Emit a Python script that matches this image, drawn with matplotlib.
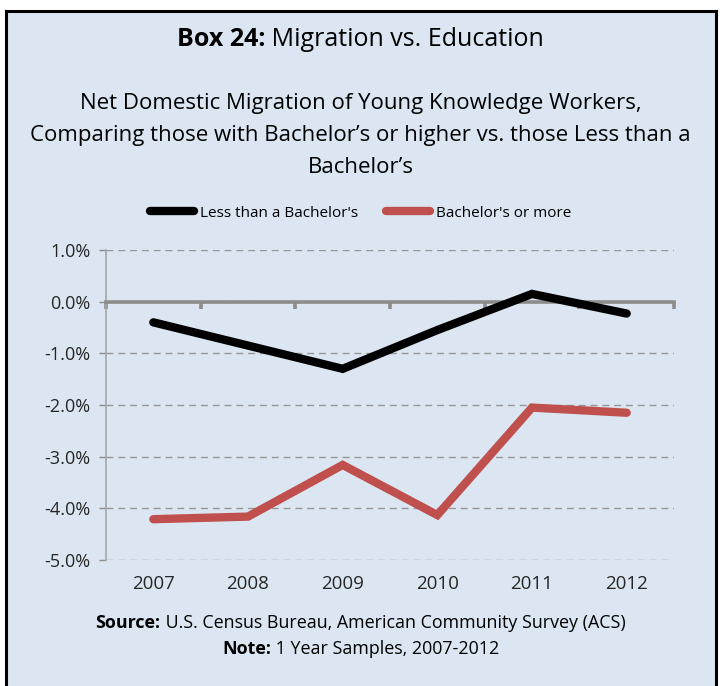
import matplotlib
matplotlib.use("Agg")
import matplotlib.pyplot as plt
from matplotlib.lines import Line2D
from matplotlib.ticker import FuncFormatter, FixedLocator

years = ["2007", "2008", "2009", "2010", "2011", "2012"]
less_than_ba = [-0.40, -0.85, -1.30, -0.55, 0.15, -0.23]
ba_or_more = [-4.21, -4.16, -3.16, -4.13, -2.05, -2.15]

subtitle_lines = [
    "Net Domestic Migration of Young Knowledge Workers,",
    "Comparing those with Bachelor\u2019s or higher vs. those Less than a",
    "Bachelor\u2019s",
]

BG = "#DCE6F2"
GRID = "#8C8C8C"
FONT = "Open Sans"

plt.rcParams["font.family"] = [FONT, "DejaVu Sans"]

fig = plt.figure(figsize=(7.21, 6.86), dpi=100)
fig.patch.set_facecolor("white")

W, H = 721, 686


def fx(px):
    return px / W


def fy(py):
    return 1 - py / H


# panel background and its border (open at the bottom)
fig.patches.append(plt.Rectangle((fx(6), 0), fx(710), fy(11), transform=fig.transFigure,
                                 facecolor=BG, edgecolor="none", zorder=-5))
for xs, ys in [([fx(6), fx(6)], [0, fy(11)]),
               ([fx(716), fx(716)], [0, fy(11)]),
               ([fx(6), fx(716)], [fy(11), fy(11)])]:
    fig.add_artist(Line2D(xs, ys, transform=fig.transFigure, color="black", lw=2.2))


def mixed_line(y, bold, normal, size):
    renderer = fig.canvas.get_renderer()
    tb = fig.text(0, y, bold, fontsize=size, fontweight="bold", va="center_baseline")
    tn = fig.text(0, y, normal, fontsize=size, va="center_baseline")
    wb = tb.get_window_extent(renderer).width / W
    wn = tn.get_window_extent(renderer).width / W
    x0 = 0.5 - (wb + wn) / 2
    tb.set_x(x0)
    tn.set_x(x0 + wb)


mixed_line(fy(37), "Box 24:", " Migration vs. Education", 18)

for i, line in enumerate(subtitle_lines):
    fig.text(0.5, fy(101 + 32 * i), line, ha="center", va="center_baseline", fontsize=16)

ax = fig.add_axes([fx(106), fy(560), fx(674 - 106), fy(250) - fy(560)])
ax.set_facecolor("none")
ax.set_zorder(2)

x = list(range(len(years)))
ax.plot(x, less_than_ba, color="black", lw=6, solid_capstyle="round",
        solid_joinstyle="miter", label="Less than a Bachelor's", zorder=4)
ax.plot(x, ba_or_more, color="#C0504D", lw=6, solid_capstyle="round",
        solid_joinstyle="miter", label="Bachelor's or more", zorder=4)

ax.set_xlim(-0.5, len(years) - 0.5)
ax.set_ylim(-5, 1)
ax.set_yticks(range(-5, 2))
ax.yaxis.set_major_formatter(FuncFormatter(lambda v, p: f"{v:.1f}%"))
ax.tick_params(axis="y", length=5, width=1, color=GRID, labelsize=13,
               labelcolor="#262626", pad=6)
ax.grid(axis="y", color="#969696", lw=1, linestyle=(0, (5, 3.5)))
ax.set_axisbelow(True)

for side in ["top", "right"]:
    ax.spines[side].set_visible(False)
ax.spines["left"].set_color("#A6A6A6")
ax.spines["left"].set_linewidth(1.2)

# category axis drawn at zero, ticks between categories
ax.spines["bottom"].set_position(("data", 0))
ax.spines["bottom"].set_color(GRID)
ax.spines["bottom"].set_linewidth(2.6)
ax.spines["bottom"].set_zorder(3)
ax.xaxis.set_major_locator(FixedLocator([i - 0.5 for i in range(len(years) + 1)]))
ax.tick_params(axis="x", length=5, width=2.6, color=GRID, labelbottom=False)

cat = ax.secondary_xaxis("bottom")
cat.set_xticks(x)
cat.set_xticklabels(years)
cat.spines["bottom"].set_visible(False)
cat.tick_params(length=0, labelsize=13.5, labelcolor="#262626", pad=11)

leg = fig.legend(handles=ax.get_lines(), loc="center", bbox_to_anchor=(0.5, fy(213)),
                 ncol=2, frameon=False, fontsize=11, handlelength=2.9,
                 handletextpad=0.4, columnspacing=1.8)
for line in leg.get_lines():
    line.set_solid_capstyle("round")

mixed_line(fy(621), "Source:", " U.S. Census Bureau, American Community Survey (ACS)", 12.9)
mixed_line(fy(647), "Note:", " 1 Year Samples, 2007-2012", 12.9)

fig.savefig("out.png", dpi=100, facecolor=fig.get_facecolor())
